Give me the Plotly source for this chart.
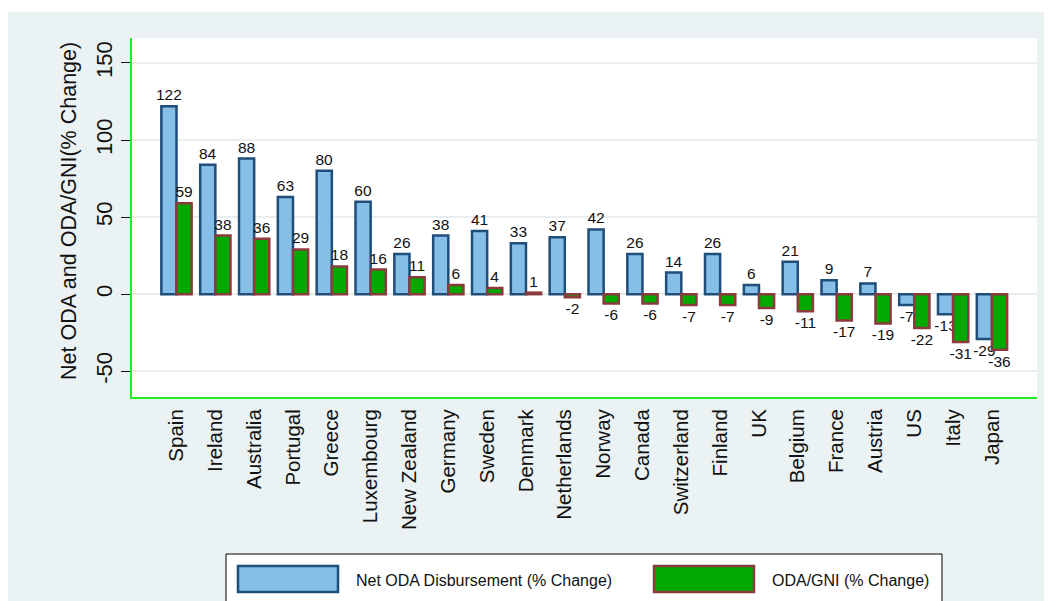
import plotly.graph_objects as go

# country order as in the chart (sorted by ODA/GNI change)
countries = ["Spain", "Ireland", "Australia", "Portugal", "Greece", "Luxembourg",
             "New Zealand", "Germany", "Sweden", "Denmark", "Netherlands", "Norway",
             "Canada", "Switzerland", "Finland", "UK", "Belgium", "France",
             "Austria", "US", "Italy", "Japan"]
net_oda = [122, 84, 88, 63, 80, 60, 26, 38, 41, 33, 37, 42, 26, 14, 26, 6, 21, 9, 7, -7, -13, -29]
oda_gni = [59, 38, 36, 29, 18, 16, 11, 6, 4, 1, -2, -6, -6, -7, -7, -9, -11, -17, -19, -22, -31, -36]
y_ticks = [-50, 0, 50, 100, 150]
y_tick_text = ["-50", "0", "50", "100", "150"]
y_title = "Net ODA and ODA/GNI(% Change)"
legend_names = ["Net ODA Disbursement (% Change)", "ODA/GNI (% Change)"]

BG = "#eaf2f3"
BLUE_FILL, BLUE_LINE = "#85bfe8", "#1f4e79"
GREEN_FILL, GREEN_LINE = "#00a800", "#8b3a3e"

# page body adds an 8px margin, so the figure is drawn 8px smaller / shifted
OFF = 8
W, H = 1052 - OFF, 601 - OFF
L, R, T, B = 132 - OFF, 15, 38 - OFF, 204
pw, ph = W - L - R, H - T - B


def px(x):
    # screen pixel x -> paper x
    return (x - OFF - L) / pw


def py(y):
    # screen pixel y (from top) -> paper y
    return (H - B - (y - OFF)) / ph


fig = go.Figure()
fig.add_trace(go.Bar(
    x=countries, y=net_oda, name=legend_names[0],
    marker=dict(color=BLUE_FILL, line=dict(color=BLUE_LINE, width=2.5)),
    text=[str(v) for v in net_oda], textposition="outside",
    textfont=dict(size=15.5, color="#111"), constraintext="none", cliponaxis=False,
))
fig.add_trace(go.Bar(
    x=countries, y=oda_gni, name=legend_names[1],
    marker=dict(color=GREEN_FILL, line=dict(color=GREEN_LINE, width=2.5)),
    text=[str(v) for v in oda_gni], textposition="outside",
    textfont=dict(size=15.5, color="#111"), constraintext="none", cliponaxis=False,
))

shapes = [
    # white strip above the grey frame
    dict(type="rect", xref="paper", yref="paper", x0=px(OFF), x1=px(W + OFF), y0=py(12), y1=py(OFF),
         fillcolor="white", line=dict(width=0), layer="below"),
    # legend box
    dict(type="rect", xref="paper", yref="paper", x0=px(226), x1=px(942), y0=py(554), y1=py(615),
         fillcolor="white", line=dict(color="black", width=1)),
    dict(type="rect", xref="paper", yref="paper", x0=px(238), x1=px(338), y0=py(566), y1=py(592),
         fillcolor=BLUE_FILL, line=dict(color=BLUE_LINE, width=2.5)),
    dict(type="rect", xref="paper", yref="paper", x0=px(654), x1=px(754), y0=py(566), y1=py(592),
         fillcolor=GREEN_FILL, line=dict(color=GREEN_LINE, width=2.5)),
]
annotations = [
    dict(x=px(69), y=py(211), xref="paper", yref="paper", text=y_title, textangle=-90,
         showarrow=False, xanchor="center", yanchor="middle", font=dict(size=21.5, color="#111")),
    dict(x=px(354), y=py(580), xref="paper", yref="paper", text=legend_names[0],
         showarrow=False, xanchor="left", yanchor="middle", font=dict(size=16, color="#111")),
    dict(x=px(770), y=py(580), xref="paper", yref="paper", text=legend_names[1],
         showarrow=False, xanchor="left", yanchor="middle", font=dict(size=16, color="#111")),
]

fig.update_layout(
    width=W, height=H,
    margin=dict(l=L, r=R, t=T, b=B),
    paper_bgcolor=BG, plot_bgcolor="white",
    font=dict(family="Liberation Sans, Arial, sans-serif", color="#111"),
    barmode="group", bargap=0.22, bargroupgap=0,
    showlegend=False,
    shapes=shapes, annotations=annotations,
)
fig.update_xaxes(
    type="category", categoryorder="array", categoryarray=countries,
    range=[-1.146, 22.16], tickangle=-90, tickfont=dict(size=20.5),
    showline=True, linecolor="#22ee22", linewidth=2, ticks="", showgrid=False,
    ticklabelstandoff=2,
)
fig.update_yaxes(
    range=[-66.7, 166.2], tickvals=y_ticks, ticktext=y_tick_text, tickangle=-90,
    tickfont=dict(size=22),
    showline=True, linecolor="#22ee22", linewidth=2,
    ticks="outside", ticklen=9, tickcolor="#111", tickwidth=1.2,
    showgrid=True, gridcolor="#e6eef0", gridwidth=2, zeroline=False,
)

fig.write_html("out.html")
